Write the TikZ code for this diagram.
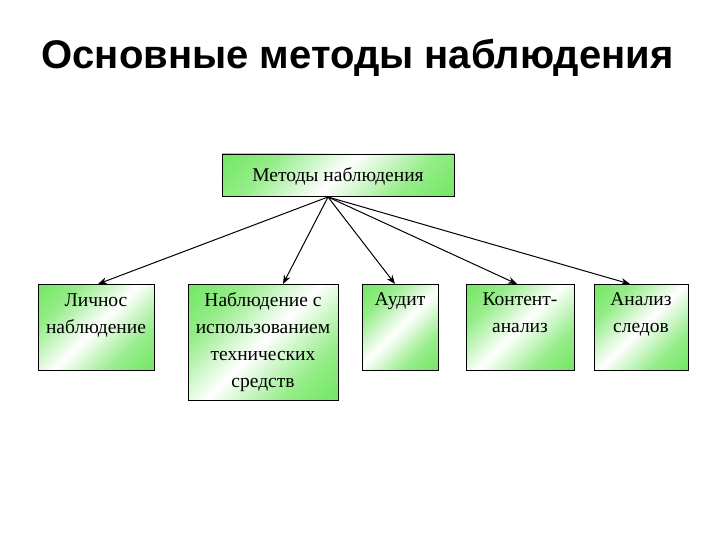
\documentclass[tikz,border=0pt]{standalone}
\usepackage{fontspec}
\setmainfont{Liberation Serif}
\newfontfamily\titlefont{Liberation Sans}
\usetikzlibrary{arrows.meta}
\definecolor{gr}{RGB}{80,225,60}
\pgfdeclarehorizontalshading{gw}{100bp}{color(0bp)=(gr); color(30bp)=(gr!60); color(50bp)=(white); color(70bp)=(gr!60); color(100bp)=(gr)}
\begin{document}
\begin{tikzpicture}[x=1pt,y=-1pt,
  box/.style={draw=black,line width=0.8pt,shading=gw,shading angle=-45},
  lbl/.style={anchor=north,align=center,font=\fontsize{19.5}{27}\selectfont},
  arr/.style={-{Stealth[length=9pt,width=7pt]},line width=1pt}]
\useasboundingbox (0,0) rectangle (720,540);
\node[font=\titlefont\bfseries\fontsize{40}{46}\selectfont,anchor=west] (title) at (38,58) {Основные методы наблюдения};
\node[box,minimum width=232pt,minimum height=42pt] (top) at (338,175) {};
\node[lbl,anchor=center] (tt) at (338,176) {Методы наблюдения};
\node[box,minimum width=116pt,minimum height=86pt,anchor=north] (b1) at (96,284) {};
\node[lbl] (t1) at (96,290) {Личнос\\наблюдение};
\node[box,minimum width=150pt,minimum height=116pt,anchor=north] (b2) at (263,284) {};
\node[lbl] (t2) at (263,289) {Наблюдение с\\использованием\\технических\\средств};
\node[box,minimum width=76pt,minimum height=86pt,anchor=north] (b3) at (400,284) {};
\node[lbl] (t3) at (400,289) {Аудит};
\node[box,minimum width=108pt,minimum height=86pt,anchor=north] (b4) at (520,284) {};
\node[lbl] (t4) at (520,289) {Контент-\\анализ};
\node[box,minimum width=94pt,minimum height=86pt,anchor=north] (b5) at (641,284) {};
\node[lbl] (t5) at (641,289) {Анализ\\следов};
\coordinate (o) at (328,197);
\draw[arr] (o) -- (b1.north -| 98,0);
\draw[arr] (o) -- (b2.north -| 283,0);
\draw[arr] (o) -- (b3.north -| 395,0);
\draw[arr] (o) -- (b4.north -| 517,0);
\draw[arr] (o) -- (b5.north -| 630,0);
\end{tikzpicture}
\end{document}
